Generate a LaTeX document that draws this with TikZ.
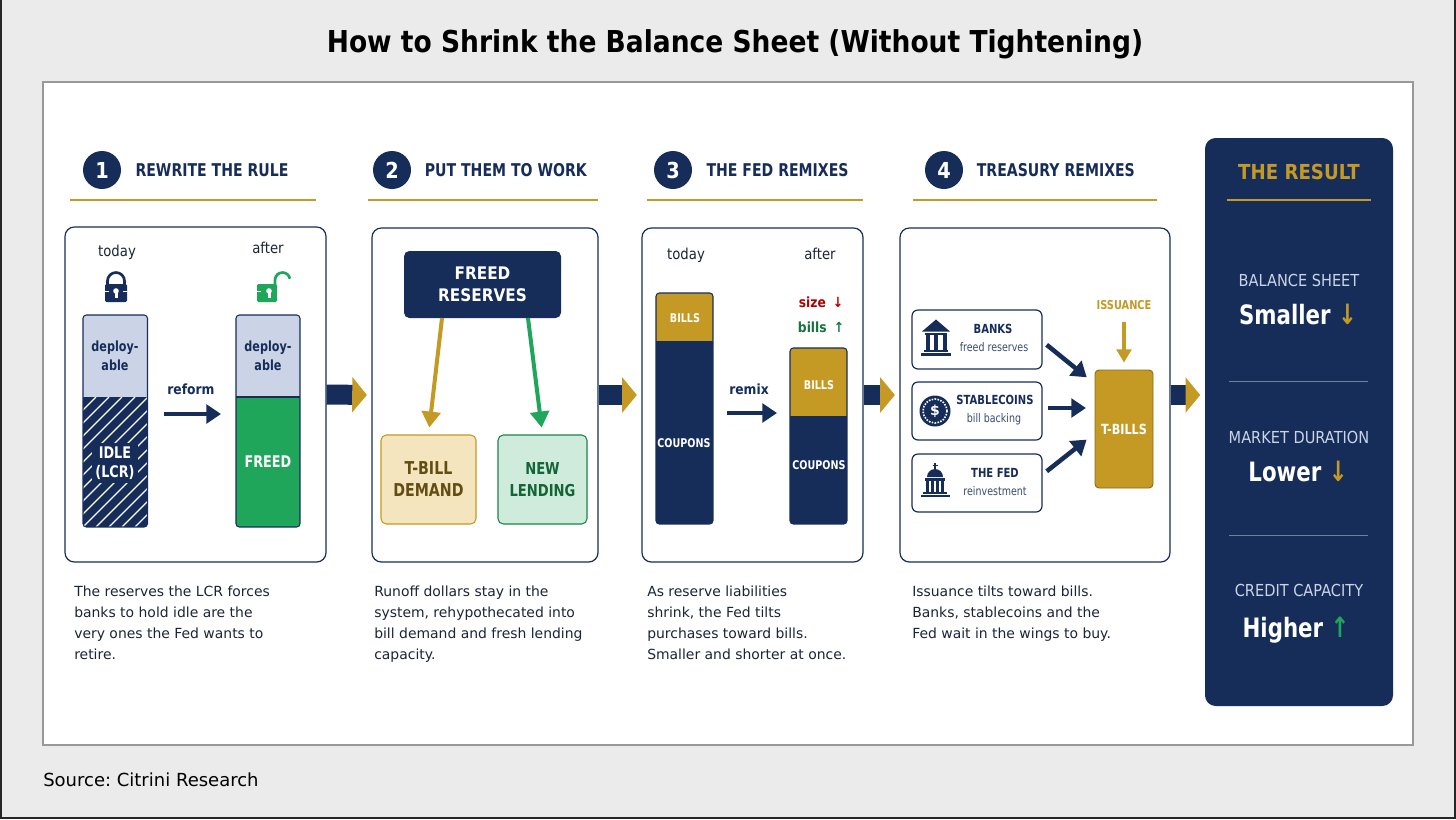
\documentclass[tikz,border=0pt]{standalone}
\usepackage{fontspec}
\setmainfont{DejaVu Sans}
\newfontfamily\condfont[FakeStretch=.88]{DejaVu Sans}
\newfontfamily\narrowfont[FakeStretch=.8]{DejaVu Sans}
\usetikzlibrary{positioning,calc,arrows.meta}
\definecolor{navy}{HTML}{162D5A}
\definecolor{gold}{HTML}{C49A24}
\definecolor{leaf}{HTML}{1FA65A}
\definecolor{pale}{HTML}{CAD4E6}
\definecolor{ink}{HTML}{1B2438}
\definecolor{page}{HTML}{EBEBEB}
\definecolor{wheat}{HTML}{F4E5BE}
\tikzset{
  sz/.style 2 args={minimum width=#1*.75pt,minimum height=#2*.75pt,inner sep=0pt},
  panel/.style ={draw=navy,fill=white,rounded corners=7pt,line width=.9pt},
  numdot/.style={circle,fill=navy,text=white,minimum size=28.5pt,inner sep=0pt,font=\condfont\bfseries\fontsize{16.5}{18}\selectfont},
  hdr/.style   ={anchor=west,inner sep=0pt,text=navy,font=\narrowfont\bfseries\fontsize{13.2}{15}\selectfont},
  rule/.style  ={gold,line width=1.7pt},
  body/.style  ={anchor=north west,align=left,inner sep=0pt,text=ink,font=\fontsize{10.45}{15.75}\selectfont},
  lbl/.style   ={inner sep=0pt,text=ink,font=\condfont\fontsize{11.3}{12}\selectfont},
  lblb/.style  ={inner sep=0pt,text=navy,font=\condfont\bfseries\fontsize{10.5}{14.5}\selectfont},
  depl/.style  ={inner sep=0pt,text=navy,align=center,font=\narrowfont\bfseries\fontsize{10.5}{14.5}\selectfont},
  onbar/.style ={inner sep=0pt,text=white,align=center,font=\narrowfont\bfseries\fontsize{9}{12}\selectfont},
  onbig/.style ={inner sep=0pt,text=white,align=center,font=\narrowfont\bfseries\fontsize{12}{14.5}\selectfont},
  wire/.style  ={navy,line width=3.4pt,-{Triangle[length=11pt,width=14pt]}},
  split/.style ={line width=3pt,shorten >=5.2pt,-{Triangle[length=12pt,width=14pt]}},
  nextstep/.style={navy,line width=15pt,shorten >=3.4pt,-{Triangle[length=11pt,width=26pt,color=gold]}},
  boxb/.style  ={rounded corners=4pt,align=center,line width=.8pt,font=\condfont\bfseries\fontsize{13}{16.5}\selectfont},
  srcbox/.style={draw=navy,fill=white,rounded corners=4.5pt,line width=.9pt},
  srcb/.style  ={inner sep=0pt,text=navy,font=\narrowfont\bfseries\fontsize{9.4}{11}\selectfont},
  srcs/.style  ={inner sep=0pt,text=navy!85,font=\narrowfont\fontsize{8.9}{11}\selectfont},
  restitle/.style={inner sep=0pt,text=pale,font=\condfont\fontsize{12.4}{14}\selectfont},
  resval/.style ={inner sep=0pt,text=white,font=\narrowfont\bfseries\fontsize{20}{24}\selectfont},
  divd/.style  ={line width=.7pt,color=navy!50!pale},
}
% name, x left, x right, top, split, bottom, upper colour, lower colour
\newcommand{\barstack}[8]{%
  \begin{scope}
    \clip[rounded corners=2.5pt] (#2,#4) rectangle (#3,#6);
    \fill[#7] (#2,#4) rectangle (#3,#5);
    \fill[#8] (#2,#5) rectangle (#3,#6);
  \end{scope}
  \coordinate (#1m) at (#3,#5);
}
\newcommand{\barline}[4]{\draw[navy,line width=.8pt,rounded corners=2.5pt] (#1,#3) rectangle (#2,#4);}
\newcommand{\lockicon}[2]{%
  \draw[navy,line width=2pt] (-8.5+#1,285) -- (-8.5+#1,281) arc[start angle=180,end angle=360,radius=8.5] -- (8.5+#1,285);
  \fill[navy,rounded corners=1pt] (-11+#1,284) rectangle (11+#1,302);
  \fill[white] (#1,291) circle (2.8);
  \fill[white] (-1.5+#1,292) rectangle (1.5+#1,298);
  \draw[white,line width=.7pt] (-11+#1,291) -- (-7+#1,291) (7+#1,291) -- (11+#1,291);
}
\newcommand{\openlock}[2]{%
  \draw[leaf,line width=2pt] (7+#1,285) -- (7+#1,280) arc[start angle=180,end angle=350,radius=7.5];
  \fill[leaf,rounded corners=1pt] (-11+#1,284) rectangle (9+#1,302);
  \fill[white] (1+#1,291) circle (2.8);
  \fill[white] (-.5+#1,292) rectangle (2.5+#1,298);
  \draw[white,line width=.7pt] (-11+#1,291) -- (-7+#1,291);
}
\newcommand{\bankicon}[2]{%
  \begin{scope}[shift={(#1,#2)}]
    \fill[navy] (0,-18) -- (14,-6) -- (-14,-6) -- cycle;
    \fill[navy] (-11,-4.5) rectangle (11,-2.5);
    \foreach \cx in {-8.5,0,8.5} \fill[navy] (\cx-2,-2.5) rectangle (\cx+2,12);
    \fill[navy] (-12,12) rectangle (12,14.5);
    \fill[navy] (-15,15.5) rectangle (15,18);
  \end{scope}
}
\newcommand{\coinicon}[2]{%
  \begin{scope}[shift={(#1,#2)}]
    \fill[navy] (0,0) circle (15.5);
    \draw[white,line width=1.2pt,densely dotted] (0,0) circle (12);
    \fill[navy] (0,0) circle (9.5);
    \node[inner sep=0pt,text=white,font=\bfseries\fontsize{10.5}{12}\selectfont] (coinsign) at (0,0) {\$};
  \end{scope}
}
\newcommand{\fedicon}[2]{%
  \begin{scope}[shift={(#1,#2)}]
    \draw[navy,line width=.9pt] (0,-22) -- (0,-14) (-2.5,-19.5) -- (2.5,-19.5);
    \fill[navy] (-8,-8) arc[start angle=180,end angle=360,radius=8] -- cycle;
    \fill[navy] (-10,-7) rectangle (10,-4.5);
    \foreach \cx in {-7.5,-2.5,2.5,7.5} \fill[navy] (\cx-1.2,-4.5) rectangle (\cx+1.2,7);
    \fill[navy] (-12,7) rectangle (12,9);
    \fill[navy] (-14.5,9.5) rectangle (14.5,12);
  \end{scope}
}

\begin{document}
\begin{tikzpicture}[x=.75pt,y=-.75pt]
\useasboundingbox (0,0) rectangle (1456,819);

% ===== page =====
\fill[black!85] (0,0) rectangle (1456,819);
\fill[page] (2,0) rectangle (1454,817);
\node[draw=black!40,fill=white,line width=.8pt,sz={1370}{663}] (sheet) at (728,413.5) {};
\node[inner sep=0pt,font=\condfont\bfseries\fontsize{22.6}{26}\selectfont] (title) at (735,44) {How to Shrink the Balance Sheet (Without Tightening)};
\node[anchor=west,inner sep=0pt,font=\frenchspacing\fontsize{13.5}{16}\selectfont] (source) at (43,780) {Source: Citrini Research};

% ===== panels =====
\node[panel,sz={261}{335}] (pa) at (195.5,394.5) {};
\node[panel,sz={226}{334}] (pb) at (485,395) {};
\node[panel,sz={221}{334}] (pc) at (752.5,395) {};
\node[panel,sz={270}{334}] (pd) at (1035,395) {};
\node[fill=navy,rounded corners=8pt,sz={188}{568}] (res) at (1299,422) {};

\draw[nextstep] (pa.east) -- (pb.west);
\draw[nextstep] (pb.east) -- (pc.west);
\draw[nextstep] (pc.east) -- (pd.west);
\draw[nextstep] (pd.east) -- (pd.east -| res.west);

% ===== headers =====
\node[numdot] (na) at (102,170) {1};
\node[numdot] (nb) at (392,170) {2};
\node[numdot] (nc) at (673,170) {3};
\node[numdot] (nd) at (944,170) {4};
\node[hdr,right=10.5pt of na] {REWRITE THE RULE};
\node[hdr,right=10pt of nb] {PUT THEM TO WORK};
\node[hdr,right=10.5pt of nc] {THE FED REMIXES};
\node[hdr,right=10pt of nd] {TREASURY REMIXES};
\draw[rule] (70,200) -- (316,200);
\draw[rule] (368,200) -- (598,200);
\draw[rule] (647,200) -- (863,200);
\draw[rule] (913,200) -- (1157,200);

% ===== panel 1 =====
\node[lbl] (todaya) at (117,252) {today};
\node[lbl] (aftera) at (268,248) {after};
\lockicon{116}{293}
\openlock{268}{293}
\barstack{ba}{83}{147.5}{315}{397}{527}{pale}{navy}
\begin{scope}
  \clip (83,397) rectangle (147.5,527);
  \foreach \i in {0,...,16} \draw[white,line width=1pt] (-47+\i*13,527) -- (83+\i*13,397);
\end{scope}
\barline{83}{147.5}{315}{527}
\node[depl] (depa) at (115,356) {deploy-\\able};
\node[fill=navy,sz={46}{40}] (idleb) at (115,463) {};
\node[onbig] (idle) at (115,463) {IDLE\\(LCR)};
\barstack{bb}{236}{300}{315}{397}{527}{pale}{leaf}
\barline{236}{300}{315}{527}
\draw[navy,line width=.8pt] (bbm) -- (236,397);
\node[depl] (depb) at (268,356) {deploy-\\able};
\node[onbig] (freed) at (268,462) {FREED};
\node[lblb] (reform) at (191,389) {reform};
\coordinate (rfa) at (164,414);
\coordinate (rfb) at (221,414);
\draw[wire] (rfa) -- (rfb);

% ===== panel 2 =====
\node[boxb,fill=navy,text=white,sz={157}{67}] (fr) at (482.5,284.5) {FREED\\RESERVES};
\node[boxb,draw=gold,fill=wheat,text=gold!50!black,sz={95}{89},font=\narrowfont\bfseries\fontsize{13.3}{16.5}\selectfont] (td) at (428.5,479.5) {T-BILL\\DEMAND};
\node[boxb,draw=leaf!80!black,fill=leaf!22,text=leaf!60!black,sz={89}{89},font=\narrowfont\bfseries\fontsize{12.3}{16}\selectfont] (nl) at (542.5,479.5) {NEW\\LENDING};
\coordinate (frl) at (442,318);
\coordinate (frr) at (528,318);
\draw[gold,split] (frl) -- (td.north);
\draw[leaf,split] (frr) -- (nl.north);

% ===== panel 3 =====
\node[lbl] (todayc) at (686,255) {today};
\node[lbl] (afterc) at (820,254) {after};
\barstack{bc}{656}{713}{293}{341}{524}{gold}{navy}
\barline{656}{713}{293}{524}
\barstack{bd}{790}{847}{348}{416}{524}{gold}{navy}
\barline{790}{847}{348}{524}
\node[onbar] (bi1) at (685,318) {BILLS};
\node[onbar] (co1) at (684,443) {COUPONS};
\node[onbar] (bi2) at (819,385) {BILLS};
\node[onbar] (co2) at (819,465) {COUPONS};
\node[lblb,text=red!70!black] (sz) at (821,302) {size\,\,\,↓};
\node[lblb,text=leaf!70!black] (bl) at (821,327) {bills\,\,\,↑};
\node[lblb] (remix) at (749,389) {remix};
\coordinate (rma) at (727,413);
\coordinate (rmb) at (777,413);
\draw[wire] (rma) -- (rmb);

% ===== panel 4 =====
\node[srcbox,sz={130}{59}] (bk) at (977,339.5) {};
\node[srcbox,sz={130}{58}] (sc) at (977,411) {};
\node[srcbox,sz={130}{58}] (fd) at (977,483) {};
\bankicon{936}{337.5}
\coinicon{935}{411}
\fedicon{935}{485}
\node[srcb] (bkt) at (993,329) {BANKS};
\node[srcs] (bks) at (994,347) {freed reserves};
\node[srcb] (sct) at (995,400) {STABLECOINS};
\node[srcs] (scs) at (994,419) {bill backing};
\node[srcb] (fdt) at (995,473) {THE FED};
\node[srcs] (fds) at (995,491) {reinvestment};
\node[fill=gold,draw=gold!70!black,rounded corners=3pt,line width=.7pt,sz={58}{118},onbar,font=\narrowfont\bfseries\fontsize{10.5}{12}\selectfont] (tb) at (1124,429) {T-BILLS};
\node[srcb,text=gold,font=\narrowfont\bfseries\fontsize{9.2}{11}\selectfont] (iss) at (1124,305) {ISSUANCE};
\draw[gold,line width=2.6pt,shorten <=9pt,shorten >=5.2pt,-{Triangle[length=10pt,width=11pt]}] (iss) -- (tb);
\coordinate (bko) at (1042,341);
\coordinate (sco) at (1042,408);
\coordinate (fdo) at (1042,475);
\coordinate (tbu) at (1095,384);
\coordinate (tbm) at (1095,408);
\coordinate (tbl) at (1095,433);
\draw[wire,shorten <=4.5pt,shorten >=8pt] (bko) -- (tbu);
\draw[wire,shorten <=4.5pt,shorten >=6.8pt] (sco) -- (tbm);
\draw[wire,shorten <=4.5pt,shorten >=8pt] (fdo) -- (tbl);

% ===== text under panels =====
\node[body] (ta) at (74,586) {The reserves the LCR forces\\banks to hold idle are the\\very ones the Fed wants to\\retire.};
\node[body] (tb2) at (374,586) {Runoff dollars stay in the\\system, rehypothecated into\\bill demand and fresh lending\\capacity.};
\node[body] (tc) at (647,586) {As reserve liabilities\\shrink, the Fed tilts\\purchases toward bills.\\Smaller and shorter at once.};
\node[body] (td2) at (912,586) {Issuance tilts toward bills.\\Banks, stablecoins and the\\Fed wait in the wings to buy.};

% ===== result =====
\node[inner sep=0pt,text=gold,font=\condfont\bfseries\fontsize{15.5}{18}\selectfont] (rt) at (1299,172) {THE RESULT};
\draw[rule] (1227,200) -- (1371,200);
\node[restitle] (r1) at (1299,280) {BALANCE SHEET};
\node[resval] (v1) at (1298,314) {Smaller {\color{gold}\fontsize{21}{24}\selectfont\bfseries ↓}};
\draw[divd] (1229,381) -- (1368,381);
\node[restitle] (r2) at (1299,437) {MARKET DURATION};
\node[resval] (v2) at (1298,471) {Lower {\color{gold}\fontsize{21}{24}\selectfont\bfseries ↓}};
\draw[divd] (1229,535) -- (1368,535);
\node[restitle] (r3) at (1299,590) {CREDIT CAPACITY};
\node[resval] (v3) at (1296,630) {Higher {\color{leaf}\fontsize{21}{24}\selectfont\bfseries ↑}};

\end{tikzpicture}
\end{document}
